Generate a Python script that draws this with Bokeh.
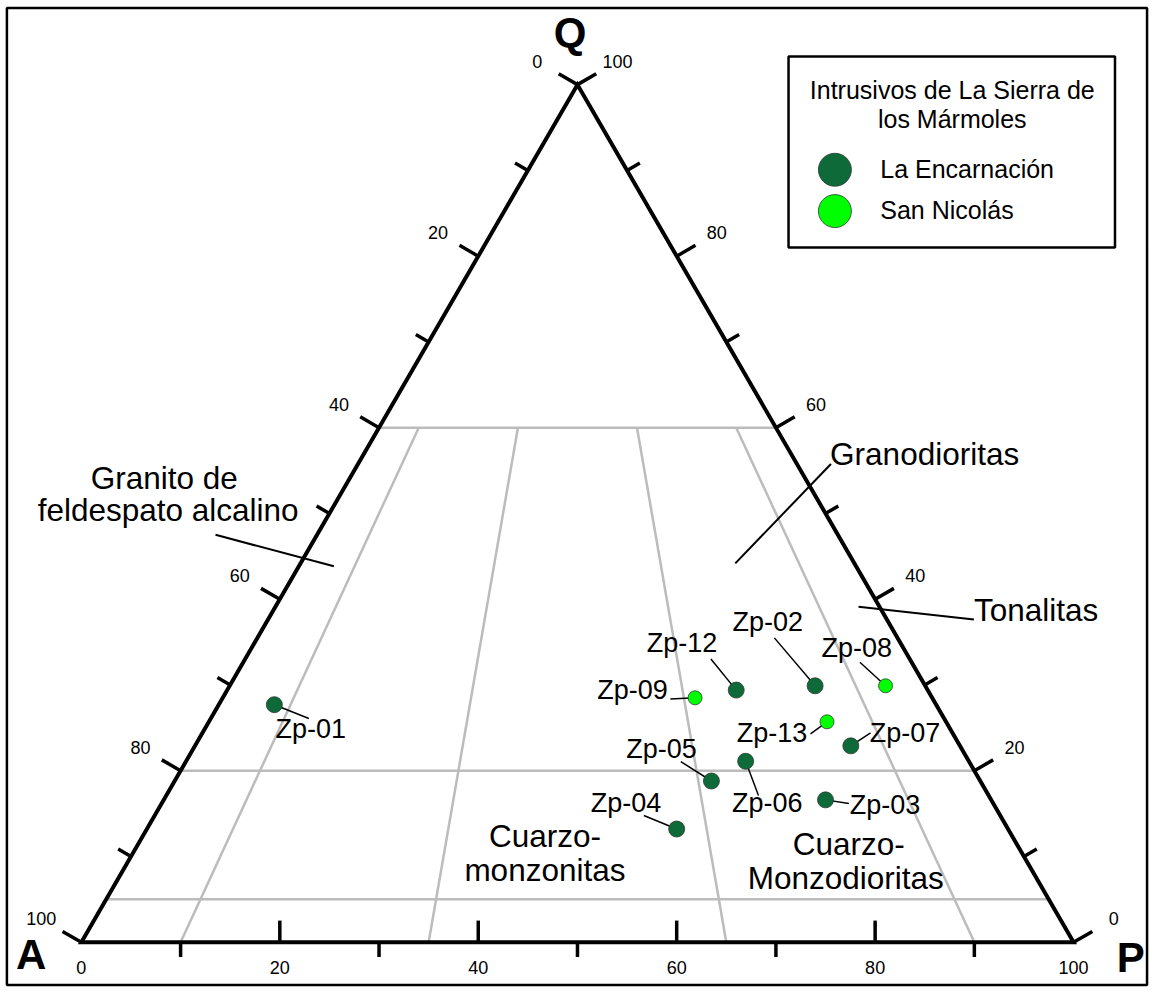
import numpy as np
from bokeh.plotting import figure
from bokeh.models import Range1d
from bokeh.core.properties import value
from bokeh.embed import file_html
from bokeh.resources import INLINE

# ---------------- data: modal Q-A-P (%) ----------------
samples = ["Zp-01", "Zp-09", "Zp-12", "Zp-02", "Zp-08", "Zp-13",
           "Zp-07", "Zp-06", "Zp-05", "Zp-03", "Zp-04"]
groups = ["La Encarnación", "San Nicolás", "La Encarnación", "La Encarnación",
          "San Nicolás", "San Nicolás", "La Encarnación", "La Encarnación",
          "La Encarnación", "La Encarnación", "La Encarnación"]
q_vals = [27.7, 28.5, 29.4, 29.9, 29.9, 25.7, 22.9, 21.1, 18.8, 16.6, 13.2]
a_vals = [66.7, 23.9, 19.3, 11.1, 4.0, 12.0, 11.0, 22.5, 27.1, 16.7, 33.4]
p_vals = [5.6, 47.6, 51.3, 59.0, 66.1, 62.3, 66.1, 56.4, 54.1, 66.7, 53.4]

group_names = ["La Encarnación", "San Nicolás"]
legend_title = ["Intrusivos de La Sierra de", "los Mármoles"]

# QAPF field boundaries
q_bounds = [60, 20, 5]            # Q levels (%)
ratio_bounds = [10, 35, 65, 90]   # 100*P/(A+P) radial boundaries (from Q=60 to base)
tick_steps = list(range(0, 101, 10))
label_steps = list(range(0, 101, 20))

# ---------------- layout / style ----------------
VA = np.array([82.0, 957.0])
VP = np.array([1088.0, 957.0])
VQ = np.array([585.0, 85.5])

colors = {"La Encarnación": "#0f6a3a", "San Nicolás": "#00ff00"}
sizes = {"La Encarnación": 16, "San Nicolás": 14}
FONT = value("Liberation Sans")
FIX = 0.38  # empirical baseline correction (fraction of font size)

# text offset (dx, dy baseline) and leader end offset relative to each point (px)
label_layout = {
    "Zp-01": (37, 35, 35, 14),
    "Zp-09": (-63.5, 2, -25, 1.3),
    "Zp-12": (-55, -37.4, -25.7, -31.7),
    "Zp-02": (-48, -55, -41.3, -48.7),
    "Zp-08": (-29.2, -28, -26, -24),
    "Zp-13": (-55.7, 21.3, -16.7, 12.3),
    "Zp-07": (55, -3.3, 20, -13.3),
    "Zp-06": (22, 52.4, 13, 34.7),
    "Zp-05": (-50.5, -22.7, -31, -19.7),
    "Zp-03": (60.4, 15, 23.7, 3.7),
    "Zp-04": (-51.5, -16.7, -33.3, -13.7),
}


def tern(q, a, p):
    s = q + a + p
    return (a * VA + p * VP + q * VQ) / s


def put_text(xs, ys, texts, size, align="center", bold=False):
    ys2 = [y - FIX * size for y in ys]
    p.text(xs, ys2, text=texts, text_font=FONT, text_font_size=f"{size}px",
           text_font_style="bold" if bold else "normal", text_align=align,
           text_baseline="alphabetic", text_color="black")


p = figure(width=1150, height=987, x_range=Range1d(0, 1166), y_range=Range1d(1003, 0),
           output_backend="svg", toolbar_location=None, min_border=0,
           x_axis_location=None, y_axis_location=None)
p.grid.visible = False
p.outline_line_color = None
p.background_fill_color = "white"

# outer frame
p.quad(left=[6.5], right=[1162.5], top=[7.5], bottom=[1000.5], fill_color=None,
       line_color="black", line_width=2.5)

# ---------------- field boundaries (gray) ----------------
gx0, gy0, gx1, gy1 = [], [], [], []
for q in q_bounds:
    s = tern(q, 100 - q, 0)
    e = tern(q, 0, 100 - q)
    gx0.append(s[0]); gy0.append(s[1]); gx1.append(e[0]); gy1.append(e[1])
for r in ratio_bounds:
    top = tern(60, 40 * (100 - r) / 100, 40 * r / 100)
    bot = tern(0, 100 - r, r)
    gx0.append(top[0]); gy0.append(top[1]); gx1.append(bot[0]); gy1.append(bot[1])
p.segment(gx0, gy0, gx1, gy1, line_color="#bcbcbc", line_width=2.5)

# ---------------- triangle ----------------
p.patch([VA[0], VP[0], VQ[0]], [VA[1], VP[1], VQ[1]], fill_color=None,
        line_color="black", line_width=4, line_join="miter")

# ---------------- ticks and tick labels ----------------
nL = np.array([-0.866, -0.5])
nR = np.array([0.866, -0.5])
tx0, ty0, tx1, ty1 = [], [], [], []
lx, ly, lt = [], [], []
for v in tick_steps:
    t = v / 100.0
    major = v % 20 == 0
    ln = 22 if major else 15
    pt = VQ + t * (VA - VQ)          # left edge: 0 at Q, 100 at A
    e = pt + nL * ln
    tx0.append(pt[0]); ty0.append(pt[1]); tx1.append(e[0]); ty1.append(e[1])
    pt2 = VP + t * (VQ - VP)         # right edge: 0 at P, 100 at Q
    e2 = pt2 + nR * ln
    tx0.append(pt2[0]); ty0.append(pt2[1]); tx1.append(e2[0]); ty1.append(e2[1])
    if 0 < v < 100:                  # bottom: 0 at A, 100 at P
        pt3 = VA + t * (VP - VA)
        e3 = pt3 + np.array([0, -22 if major else 15])
        tx0.append(pt3[0]); ty0.append(pt3[1]); tx1.append(e3[0]); ty1.append(e3[1])
for v in label_steps:
    t = v / 100.0
    a = VQ + t * (VA - VQ) + nL * 47
    b = VP + t * (VQ - VP) + nR * 47
    c = VA + t * (VP - VA) + np.array([0, 26])
    for q in (a, b, c):
        lx.append(q[0]); ly.append(q[1] + 6.5); lt.append(str(v))
p.segment(tx0, ty0, tx1, ty1, line_color="black", line_width=3.5)
put_text(lx, ly, lt, 18)

# vertex letters
put_text([577.5, 31, 1146], [48, 985, 988], ["Q", "A", "P"], 42, bold=True)

# ---------------- field names ----------------
p.segment([218, 745, 870], [543, 572, 616], [338, 842, 987], [575, 471, 629],
          line_color="black", line_width=2)
put_text([166, 170, 937, 1050, 552, 552, 860, 857],
         [497, 530, 473, 631, 861, 896, 869, 904],
         ["Granito de", "feldespato alcalino", "Granodioritas", "Tonalitas",
          "Cuarzo-", "monzonitas", "Cuarzo-", "Monzodioritas"], 31.5)

# ---------------- samples ----------------
pts = [tern(q, a, pp) for q, a, pp in zip(q_vals, a_vals, p_vals)]
sx = [pt[0] for pt in pts]
sy = [pt[1] for pt in pts]
lead_x0, lead_y0, lead_x1, lead_y1 = [], [], [], []
txt_x, txt_y = [], []
for name, x, y in zip(samples, sx, sy):
    dx, dy, ex, ey = label_layout[name]
    lead_x0.append(x); lead_y0.append(y); lead_x1.append(x + ex); lead_y1.append(y + ey)
    txt_x.append(x + dx); txt_y.append(y + dy)
p.segment(lead_x0, lead_y0, lead_x1, lead_y1, line_color="black", line_width=1.5)
for g in group_names:
    idx = [i for i, gg in enumerate(groups) if gg == g]
    p.scatter([sx[i] for i in idx], [sy[i] for i in idx], marker="circle",
              size=sizes[g], fill_color=colors[g], line_color="#2a3a30", line_width=0.8)
put_text(txt_x, txt_y, samples, 27)

# ---------------- legend ----------------
p.quad(left=[799], right=[1130], top=[57], bottom=[251], fill_color="white",
       line_color="black", line_width=2.5)
put_text([965, 965], [100.7, 130], legend_title, 25)
p.scatter([846, 846], [172, 214], marker="circle", size=33,
          fill_color=[colors[g] for g in group_names], line_color="#2a3a30", line_width=0.8)
put_text([892, 892], [180.5, 222], group_names, 25, align="left")

open("out.html", "w").write(file_html(p, INLINE))
